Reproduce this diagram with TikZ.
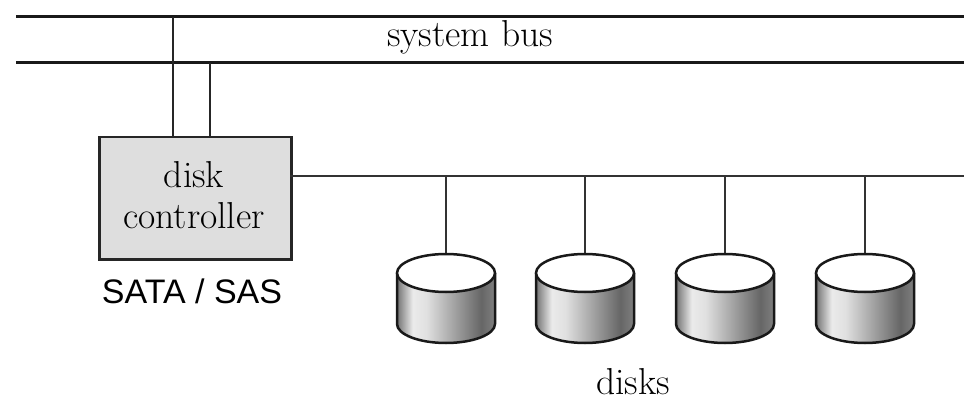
\documentclass[tikz,border=0pt]{standalone}
\usepackage{fontspec}
\newfontfamily\arialfont{Liberation Sans}
\pgfdeclarehorizontalshading{diskshade}{100bp}{%
  color(0bp)=(black!55); color(25bp)=(black!55); color(33bp)=(black!8);
  color(40bp)=(black!12); color(68bp)=(black!60); color(75bp)=(black!50);
  color(100bp)=(black!50)}
\tikzset{
  x=1pt, y=-1pt,
  bus/.style={line width=3pt, draw=black!90},
  link/.style={line width=2.5pt, draw=black!85},
  dlink/.style={line width=2pt, draw=black!80},
  ctrlbox/.style={draw=black!85, line width=2.5pt, fill=black!13, minimum width=192pt, minimum height=122pt, inner sep=0pt},
  serif/.style={font=\fontsize{37.5}{45}\selectfont, text=black},
  sans/.style={font=\arialfont\fontsize{34}{40}\selectfont}
}
\begin{document}
\begin{tikzpicture}
\useasboundingbox (0,0) rectangle (976,406);
% buses
\coordinate (b1l) at (16,17);  \coordinate (b1r) at (964,17);
\coordinate (b2l) at (16,63);  \coordinate (b2r) at (964,63);
\draw[bus] (b1l) -- (b1r);
\draw[bus] (b2l) -- (b2r);
\node[serif, anchor=base] (sysbus) at (470,47) {system bus};
% controller
\node[ctrlbox, anchor=north west] (ctrl) at (98,136) {};
\node[serif, anchor=base] (ctrltxt1) at (194,187) {disk};
\node[serif, anchor=base] (ctrltxt2) at (194,228) {controller};
\node[sans, anchor=base] (sata) at (192,303) {SATA / SAS};
\coordinate (t1) at (173,17); \coordinate (t1b) at (173,136);
\coordinate (t2) at (210,63); \coordinate (t2b) at (210,136);
\draw[link] (t1) -- (t1b);
\draw[link] (t2) -- (t2b);
% disk line
\coordinate (dl) at (290,176);
\coordinate (dr) at (964,176);
\draw[dlink] (dl) -- (dr);
% disks
\foreach \c/\n in {446/1,585/2,725/3,865/4}{
  \coordinate (dtop\n) at (\c,254);
  \coordinate (dbus\n) at (\c,176);
  \draw[dlink] (dbus\n) -- (dtop\n);
  \shade[shading=diskshade] (\c-49,273) -- (\c-49,324) arc[start angle=180,end angle=360,x radius=49,y radius=-19] -- (\c+49,273) arc[start angle=0,end angle=180,x radius=49,y radius=-19] -- cycle;
  \draw[line width=2.5pt, black!90] (\c-49,273) -- (\c-49,324) arc[start angle=180,end angle=360,x radius=49,y radius=-19] -- (\c+49,273);
  \draw[line width=2.5pt, black!90, fill=white] (\c,273) ellipse[x radius=49, y radius=19];
}
\node[serif, anchor=base] (disks) at (633,394) {disks};
\end{tikzpicture}
\end{document}
